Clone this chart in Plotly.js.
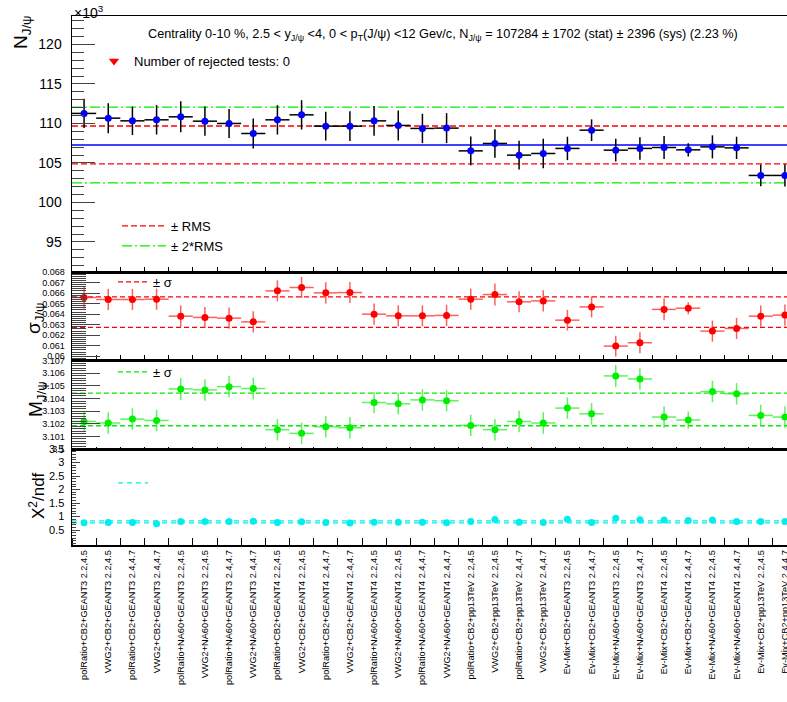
<!DOCTYPE html>
<html><head><meta charset="utf-8">
<script src="https://cdn.plot.ly/plotly-3.0.1.min.js"></script>
<style>html,body{margin:0;padding:0;overflow:hidden;background:#fff}</style>
</head><body><div id="chart"></div>
<script>
const categories = [
 "polRatio+CB2+GEANT3 2.2,4.5","VWG2+CB2+GEANT3 2.2,4.5","polRatio+CB2+GEANT3 2.4,4.7","VWG2+CB2+GEANT3 2.4,4.7",
 "polRatio+NA60+GEANT3 2.2,4.5","VWG2+NA60+GEANT3 2.2,4.5","polRatio+NA60+GEANT3 2.4,4.7","VWG2+NA60+GEANT3 2.4,4.7",
 "polRatio+CB2+GEANT4 2.2,4.5","VWG2+CB2+GEANT4 2.2,4.5","polRatio+CB2+GEANT4 2.4,4.7","VWG2+CB2+GEANT4 2.4,4.7",
 "polRatio+NA60+GEANT4 2.2,4.5","VWG2+NA60+GEANT4 2.2,4.5","polRatio+NA60+GEANT4 2.4,4.7","VWG2+NA60+GEANT4 2.4,4.7",
 "polRatio+CB2+pp13TeV 2.2,4.5","VWG2+CB2+pp13TeV 2.2,4.5","polRatio+CB2+pp13TeV 2.4,4.7","VWG2+CB2+pp13TeV 2.4,4.7",
 "Ev-Mix+CB2+GEANT3 2.2,4.5","Ev-Mix+CB2+GEANT3 2.4,4.7","Ev-Mix+NA60+GEANT3 2.2,4.5","Ev-Mix+NA60+GEANT3 2.4,4.7",
 "Ev-Mix+CB2+GEANT4 2.2,4.5","Ev-Mix+CB2+GEANT4 2.4,4.7","Ev-Mix+NA60+GEANT4 2.2,4.5","Ev-Mix+NA60+GEANT4 2.4,4.7",
 "Ev-Mix+CB2+pp13TeV 2.2,4.5","Ev-Mix+CB2+pp13TeV 2.4,4.7"];

// N_J/psi (x10^3)
const nJpsi = [111.27,110.67,110.33,110.46,110.84,110.29,110.00,108.73,110.46,111.09,109.66,109.66,110.33,109.75,109.37,
               109.41,106.53,107.47,105.99,106.20,106.84,109.15,106.62,106.84,106.96,106.66,107.04,106.91,103.42,103.42];
const nJpsiErr = [1.85,1.90,1.80,1.86,1.96,1.86,1.83,1.90,1.86,1.86,1.83,1.88,1.88,1.90,1.86,
                  1.90,1.83,1.81,1.83,1.86,1.48,1.37,1.43,1.43,1.46,0.84,1.46,1.41,1.37,1.41];
const nMean = 107.284;
const nRms = 2.396;

// sigma_J/psi
const sigmaJpsi = [0.06558,0.06539,0.06539,0.06542,0.06381,0.06369,0.06362,0.06327,0.06621,0.06653,0.06602,0.06605,0.06400,0.06384,0.06384,
                   0.06388,0.06542,0.06586,0.06517,0.06526,0.06343,0.06469,0.06097,0.06129,0.06445,0.06457,0.06239,0.06265,0.06381,0.06391];
const sigmaErr = [0.00105,0.00100,0.00100,0.00100,0.00100,0.00100,0.00100,0.00100,0.00100,0.00100,0.00100,0.00100,0.00100,0.00100,0.00100,
                  0.00100,0.00100,0.00105,0.00100,0.00100,0.00098,0.00100,0.00098,0.00100,0.00104,0.00057,0.00100,0.00100,0.00100,0.00100];
const sigmaBand = [0.06274,0.06564];

// M_J/psi
const massJpsi = [3.10218,3.10206,3.10237,3.10226,3.10476,3.10468,3.10494,3.10479,3.10153,3.10124,3.10176,3.10169,3.10368,3.10358,3.10389,
                  3.10382,3.10187,3.10153,3.10218,3.10206,3.10324,3.10279,3.10579,3.10555,3.10253,3.10229,3.10455,3.10437,3.10266,3.10253];
const massErr = [0.00085,0.00085,0.00085,0.00085,0.00087,0.00085,0.00085,0.00085,0.00085,0.00085,0.00085,0.00085,0.00085,0.00085,0.00085,
                 0.00085,0.00085,0.00085,0.00085,0.00085,0.00085,0.00085,0.00087,0.00085,0.00085,0.00068,0.00085,0.00085,0.00085,0.00085];
const massBand = [3.10184,3.10442];

// chi2/ndf
const chi2ndf = [0.77,0.78,0.78,0.74,0.82,0.82,0.82,0.83,0.78,0.81,0.78,0.76,0.79,0.79,0.79,
                 0.77,0.82,0.89,0.79,0.78,0.90,0.78,0.94,0.88,0.87,0.86,0.87,0.82,0.82,0.82];
const chi2Band = [0.77,0.84];

const idx = categories.map((_, i) => i);
const edges = [-0.5].concat(idx.map(i => i + 0.5));
const xr = [-0.5, categories.length - 0.5];
function hline(v){ return {x:[xr[0], xr[1]], y:[v, v]}; }
function band(lo, hi){ return {x:[xr[0], xr[1], null, xr[0], xr[1]], y:[lo, lo, null, hi, hi]}; }

// pixel helpers for layout placement
const W = 800, H = 702, ML = 72, MR = 3, MT = 16, MB = 157;
const PW = W - ML - MR, PH = H - MT - MB;
const px = x => (x - ML) / PW;
const py = y => (H - MB - y) / PH;

const FONT = 'Liberation Sans, Arial, sans-serif';

const traces = [
  Object.assign(hline(nMean), {type:'scatter', mode:'lines', xaxis:'x', yaxis:'y', line:{color:'#0000ff', width:1.5}, showlegend:false}),
  Object.assign(band(nMean - nRms, nMean + nRms), {type:'scatter', mode:'lines', xaxis:'x', yaxis:'y', name:'± RMS', legend:'legend',
     line:{color:'#ff0000', width:1.3, dash:'6px,3px'}}),
  Object.assign(band(nMean - 2*nRms, nMean + 2*nRms), {type:'scatter', mode:'lines', xaxis:'x', yaxis:'y', name:'± 2*RMS', legend:'legend',
     line:{color:'#00ee00', width:1.3, dash:'10px,3px,2px,3px'}}),
  {type:'scatter', mode:'markers', x:idx, y:nJpsi, xaxis:'x', yaxis:'y', showlegend:false,
   marker:{color:'#0000ff', size:7},
   error_x:{type:'constant', value:0.5, color:'#000', thickness:1.5, width:0},
   error_y:{type:'data', array:nJpsiErr, visible:true, color:'#000', thickness:1.5, width:0}},
  {type:'scatter', mode:'markers', x:[null], y:[null], xaxis:'x', yaxis:'y', name:'Number of rejected tests: 0', legend:'legend5',
   marker:{color:'#ff0000', size:9, symbol:'triangle-down'}},

  Object.assign(band(sigmaBand[0], sigmaBand[1]), {type:'scatter', mode:'lines', xaxis:'x2', yaxis:'y2', name:'± σ', legend:'legend2',
     line:{color:'#ff0000', width:1.3, dash:'5px,3px'}}),
  {type:'scatter', mode:'markers', x:idx, y:sigmaJpsi, xaxis:'x2', yaxis:'y2', showlegend:false,
   marker:{color:'#ff0000', size:7},
   error_x:{type:'constant', value:0.5, color:'rgba(255,40,40,0.75)', thickness:1.5, width:0},
   error_y:{type:'data', array:sigmaErr, visible:true, color:'rgba(255,40,40,0.75)', thickness:1.5, width:0}},

  Object.assign(band(massBand[0], massBand[1]), {type:'scatter', mode:'lines', xaxis:'x3', yaxis:'y3', name:'± σ', legend:'legend3',
     line:{color:'#00ee00', width:1.3, dash:'5px,3px'}}),
  {type:'scatter', mode:'markers', x:idx, y:massJpsi, xaxis:'x3', yaxis:'y3', showlegend:false,
   marker:{color:'#00ee00', size:7},
   error_x:{type:'constant', value:0.5, color:'rgba(40,240,40,0.75)', thickness:1.5, width:0},
   error_y:{type:'data', array:massErr, visible:true, color:'rgba(40,240,40,0.75)', thickness:1.5, width:0}},

  Object.assign(band(chi2Band[0], chi2Band[1]), {type:'scatter', mode:'lines', xaxis:'x4', yaxis:'y4', name:' ', legend:'legend4',
     line:{color:'#00eeee', width:1.3, dash:'5px,4px'}}),
  {type:'scatter', mode:'markers', x:idx, y:chi2ndf, xaxis:'x4', yaxis:'y4', showlegend:false,
   marker:{color:'#00eeee', size:7}}
];

const frame = {showline:true, linecolor:'#000', linewidth:1.5, mirror:true, showgrid:false, zeroline:false};
function xax(anchor, len, labels){
  const a = Object.assign({}, frame, {anchor:anchor, range:xr, domain:[0,1]});
  if (labels){
    Object.assign(a, {tickmode:'array', tickvals:idx, ticktext:categories, ticks:'', tickangle:-90,
      tickfont:{family:'Liberation Sans Narrow, Liberation Sans, Arial', size:9.2, color:'#000'},
      minor:{tickmode:'array', tickvals:edges, ticks:'inside', ticklen:len, tickcolor:'#000', tickwidth:1}});
  } else {
    Object.assign(a, {tickmode:'array', tickvals:edges, ticks:'inside', ticklen:len, tickcolor:'#000', showticklabels:false});
  }
  return a;
}

const lg = {xanchor:'left', yanchor:'top', bgcolor:'rgba(0,0,0,0)', borderwidth:0, font:{size:13}, tracegroupgap:0};
const layout = {
  width:W, height:H, margin:{l:ML, r:MR, t:MT, b:MB}, paper_bgcolor:'#fff', plot_bgcolor:'#fff',
  font:{family:FONT, color:'#000'},
  xaxis: xax('y', 5, false),
  xaxis2: xax('y2', 5, false),
  xaxis3: xax('y3', 2, false),
  xaxis4: xax('y4', 7, true),
  yaxis: Object.assign({}, frame, {domain:[py(272), 1], range:[91.2, 123.6], tick0:95, dtick:5, ticks:'inside', ticklen:23,
     tickfont:{size:14}, ticklabelstandoff:6, minor:{dtick:1, ticks:'inside', ticklen:12}}),
  yaxis2: Object.assign({}, frame, {domain:[py(360), py(272)], range:[0.05965, 0.0680], tick0:0.06, dtick:0.001, ticks:'inside', ticklen:28,
     tickfont:{size:9}, ticklabelstandoff:4, minor:{dtick:0.0002, ticks:'inside', ticklen:14}}),
  yaxis3: Object.assign({}, frame, {domain:[py(449), py(360)], range:[3.1000, 3.10705], tick0:3.1, dtick:0.001, ticks:'inside', ticklen:28,
     tickfont:{size:9}, ticklabelstandoff:4, minor:{dtick:0.0002, ticks:'inside', ticklen:14}}),
  yaxis4: Object.assign({}, frame, {domain:[0, py(449)], range:[-0.05, 3.5], tickmode:'array', tickvals:[0.5,1,1.5,2,2.5,3,3.5], ticks:'inside', ticklen:8,
     tickfont:{size:11}, ticklabelstandoff:4, minor:{dtick:0.1, ticks:'inside', ticklen:4}}),
  showlegend:true,
  legend: Object.assign({x:px(117), y:py(211), itemwidth:44}, lg),
  legend2: Object.assign({x:px(113), y:py(267)}, lg),
  legend3: Object.assign({x:px(113), y:py(357)}, lg),
  legend4: Object.assign({x:px(113), y:py(468)}, lg),
  legend5: Object.assign({x:px(94), y:py(46)}, lg),
  annotations:[
    {xref:'paper', yref:'paper', x:px(72), y:py(1), xanchor:'left', yanchor:'top', showarrow:false, text:'×10<sup>3</sup>', font:{size:14}},
    {xref:'paper', yref:'paper', x:px(146), y:py(35), xanchor:'left', yanchor:'middle', showarrow:false, font:{size:12.7},
     text:'Centrality 0-10 %, 2.5 < y<sub>J/ψ</sub> <4, 0 < p<sub>T</sub>(J/ψ) <12 Gev/c, N<sub>J/ψ</sub> = 107284 ± 1702 (stat) ± 2396 (sys) (2.23 %)'},
    {xref:'paper', yref:'paper', x:px(22), y:py(32), xanchor:'center', yanchor:'middle', showarrow:false, textangle:-90, font:{size:19}, text:'N<sub>J/ψ</sub>'},
    {xref:'paper', yref:'paper', x:px(35), y:py(318), xanchor:'center', yanchor:'middle', showarrow:false, textangle:-90, font:{size:19}, text:'σ<sub>J/ψ</sub>'},
    {xref:'paper', yref:'paper', x:px(37), y:py(399), xanchor:'center', yanchor:'middle', showarrow:false, textangle:-90, font:{size:19}, text:'M<sub>J/ψ</sub>'},
    {xref:'paper', yref:'paper', x:px(37), y:py(496), xanchor:'center', yanchor:'middle', showarrow:false, textangle:-90, font:{size:17}, text:'X<sup>2</sup>/ndf'}
  ]
};

Plotly.newPlot('chart', traces, layout, {staticPlot:true, displayModeBar:false});
</script></body></html>
